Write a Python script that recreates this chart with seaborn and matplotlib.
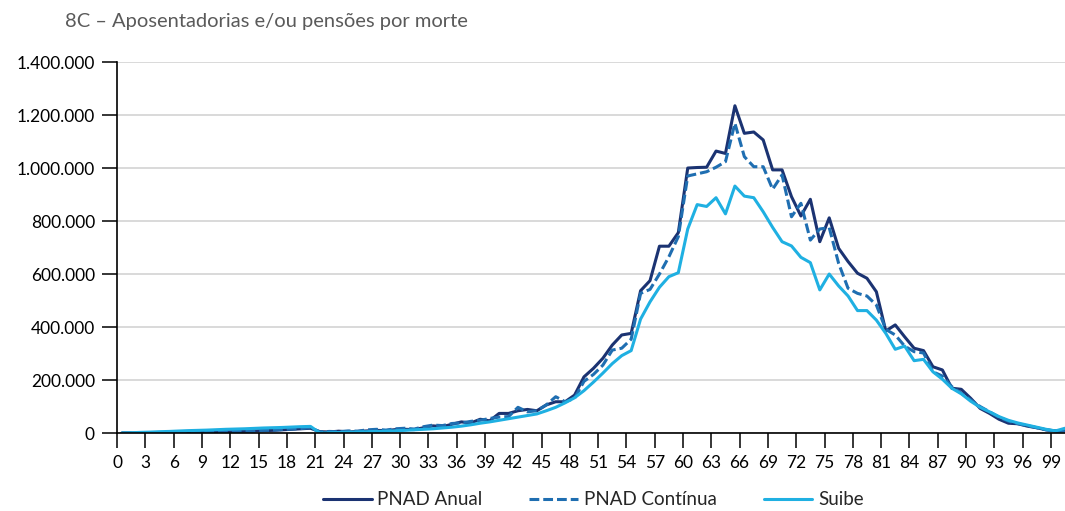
import numpy as np
import pandas as pd
import matplotlib
matplotlib.use("Agg")
import matplotlib.pyplot as plt
from matplotlib.ticker import FuncFormatter
from matplotlib.lines import Line2D
import seaborn as sns

# ─── Data (people, by single year of age 0..100) ─────────────────────────────
AGES = list(range(0, 101))

PNAD_ANUAL = [
    0, 0, 1000, 0, 1000, 2000, 2000, 3000, 3000, 4000,
    4000, 5000, 5000, 7000, 8000, 9000, 10000, 12000, 14000, 16000,
    18000, 5000, 4000, 7000, 4000, 6000, 8000, 10000, 9000, 13000,
    14000, 13000, 20000, 27000, 24000, 33000, 42000, 38000, 52000, 46000,
    74000, 74000, 84000, 89000, 84000, 106000, 118000, 118000, 143000, 212000,
    244000, 282000, 332000, 370000, 376000, 537000, 575000, 705000, 705000, 756000,
    1000000, 1002000, 1003000, 1064000, 1055000, 1235000, 1131000, 1136000, 1106000, 993000,
    993000, 892000, 819000, 882000, 722000, 812000, 697000, 647000, 603000, 584000,
    533000, 385000, 408000, 363000, 320000, 311000, 250000, 238000, 169000, 165000,
    131000, 93000, 74000, 52000, 37000, 35000, 26000, 20000, 12000, 8000,
    10000,
]

PNAD_CONTINUA = [
    0, 0, 0, 1000, 0, 2000, 1000, 3000, 2000, 4000,
    5000, 4000, 6000, 7000, 8000, 10000, 11000, 13000, 15000, 17000,
    20000, 4000, 6000, 5000, 8000, 7000, 12000, 14000, 11000, 16000,
    18000, 15000, 24000, 30000, 28000, 36000, 38000, 44000, 48000, 55000,
    60000, 62000, 97000, 80000, 84000, 106000, 137000, 118000, 131000, 195000,
    221000, 256000, 313000, 320000, 354000, 527000, 542000, 600000, 665000, 741000,
    970000, 978000, 986000, 1003000, 1024000, 1169000, 1043000, 1005000, 1005000, 920000,
    974000, 816000, 867000, 728000, 770000, 775000, 640000, 546000, 527000, 517000,
    483000, 391000, 370000, 328000, 307000, 302000, 231000, 215000, 175000, 150000,
    125000, 100000, 80000, 60000, 45000, 35000, 28000, 20000, 12000, 7000,
    8000,
]

SUIBE = [
    0, 1000, 2500, 3500, 5000, 6000, 7500, 9000, 10000, 11000,
    12500, 14000, 15000, 16000, 17500, 19000, 20000, 21000, 22500, 24000,
    25000, 0, 1000, 2000, 3000, 4000, 5000, 6000, 7000, 8500,
    10000, 12000, 14000, 16000, 19000, 22000, 26000, 31000, 37000, 42000,
    48000, 54000, 60000, 66000, 72000, 84000, 97000, 114000, 133000, 160000,
    192000, 226000, 262000, 292000, 311000, 430000, 495000, 550000, 590000, 605000,
    770000, 862000, 855000, 888000, 827000, 932000, 894000, 888000, 835000, 776000,
    722000, 706000, 663000, 643000, 540000, 600000, 555000, 517000, 462000, 462000,
    426000, 376000, 316000, 328000, 273000, 278000, 231000, 203000, 169000, 148000,
    120000, 97000, 80000, 62000, 48000, 38000, 30000, 22000, 14000, 8000,
    18000,
]

SERIES = ["PNAD Anual", "PNAD Contínua", "Suibe"]
COLORS = {"PNAD Anual": "#1b3372", "PNAD Contínua": "#1f6eb1", "Suibe": "#1fb0e2"}
DASH = (3.2, 1.3)
TITLE = "8C – Aposentadorias e/ou pensões por morte"

df = pd.DataFrame({
    "idade": AGES * 3,
    "valor": PNAD_ANUAL + PNAD_CONTINUA + SUIBE,
    "fonte": ["PNAD Anual"] * 101 + ["PNAD Contínua"] * 101 + ["Suibe"] * 101,
})
# each age is a one-year class: draw it at the centre of its interval
df["pos"] = df["idade"] + 0.5

# ─── Plot ─────────────────────────────────────────────────────────────────────
sns.set_style("white")
plt.rcParams["font.family"] = ["Lato", "DejaVu Sans"]

fig = plt.figure(figsize=(10.65, 5.11), dpi=100)
ax = fig.add_axes([0.110, 0.1526, 0.890, 0.726])

sns.lineplot(data=df, x="pos", y="valor", hue="fonte", style="fonte",
             hue_order=SERIES, style_order=SERIES, palette=COLORS,
             dashes={"PNAD Anual": "", "PNAD Contínua": DASH, "Suibe": ""},
             linewidth=2.2, ax=ax, legend=False)

ax.set_xlim(0, 100.5)
ax.set_ylim(0, 1400000)
ax.set_xticks(np.arange(0, 100, 3))
ax.set_yticks(np.arange(0, 1400001, 200000))
ax.yaxis.set_major_formatter(FuncFormatter(lambda v, p: f"{int(v):,}".replace(",", ".")))
ax.set_xlabel("")
ax.set_ylabel("")

ax.grid(axis="y", color="#d0d0d0", linewidth=1.1)
ax.grid(axis="x", visible=False)
ax.set_axisbelow(True)
for s in ["top", "right"]:
    ax.spines[s].set_visible(False)
for s in ["left", "bottom"]:
    ax.spines[s].set_color("black")
    ax.spines[s].set_linewidth(1.2)
ax.tick_params(axis="both", direction="out", length=11, width=1.1, color="black",
               labelsize=12.5, labelcolor="black", left=True, bottom=True, pad=5)

fig.text(0.061, 0.957, TITLE, fontsize=14.5, color="#5a5a5a", va="center", ha="left")

handles = [Line2D([], [], color=COLORS["PNAD Anual"], lw=2.2),
           Line2D([], [], color=COLORS["PNAD Contínua"], lw=2.2, dashes=DASH),
           Line2D([], [], color=COLORS["Suibe"], lw=2.2)]
fig.legend(handles, SERIES, loc="center", bbox_to_anchor=(0.557, 0.022), ncol=3,
           frameon=False, fontsize=13.5, handlelength=2.6, handletextpad=0.3,
           columnspacing=2.5)

plt.savefig("out.png", dpi=100)
plt.close()
